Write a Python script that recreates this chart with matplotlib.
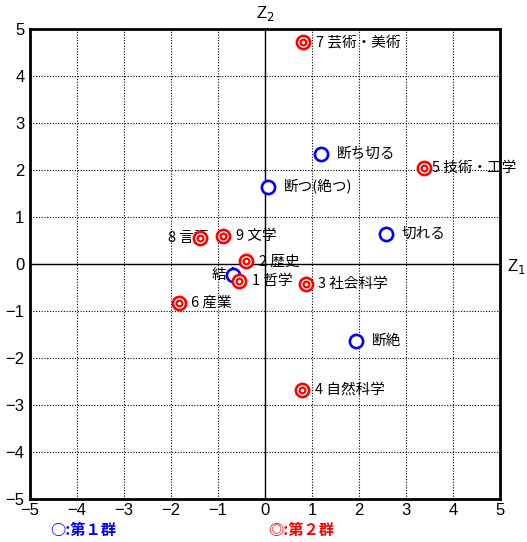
import matplotlib as mpl
import matplotlib.pyplot as plt

mpl.rcParams.update({
    'font.family': ['Noto Sans CJK JP', 'DejaVu Sans'],
    'axes.unicode_minus': True,
})

# group 1 (blue rings)
g1_names = ['断ち切る', '断つ(絶つ)', '切れる', '結合', '断絶']
g1_x = [1.19, 0.06, 2.57, -0.68, 1.94]
g1_y = [2.34, 1.64, 0.64, -0.23, -1.64]

# group 2 (red double rings)
g2_names = ['1 哲学', '2 歴史', '3 社会科学', '4 自然科学', '5 技術・工学',
            '6 産業', '7 芸術・美術', '8 言語', '9 文学']
g2_x = [-0.55, -0.40, 0.87, 0.79, 3.38, -1.83, 0.81, -1.38, -0.89]
g2_y = [-0.36, 0.06, -0.43, -2.68, 2.04, -0.83, 4.72, 0.55, 0.60]

ticks = [-5, -4, -3, -2, -1, 0, 1, 2, 3, 4, 5]
tick_labels = [f'{t}'.replace('-', '\u2212') for t in ticks]

fig = plt.figure(figsize=(5.27, 5.42), dpi=100)
ax = fig.add_axes([30 / 527, 1 - 499 / 542, 470 / 527, 470 / 542])
ax.set_xlim(-5, 5)
ax.set_ylim(-5, 5)
ax.set_xticks(ticks)
ax.set_yticks(ticks)
ax.set_xticklabels(tick_labels, family='Liberation Sans', fontsize=12)
ax.set_yticklabels(tick_labels, family='Liberation Sans', fontsize=12)
ax.tick_params(axis='x', length=0, pad=3)
ax.tick_params(axis='y', length=0, pad=4)
ax.grid(True, color='black', linestyle=(0, (1, 1.5)), linewidth=0.8)
for s in ax.spines.values():
    s.set_linewidth(2)
ax.axhline(0, color='black', linewidth=1, zorder=2)
ax.axvline(0, color='black', linewidth=1, zorder=2)

fs = 10.5
# labels first, markers on top
for n, x, y in zip(g1_names, g1_x, g1_y):
    if n == '結合':
        ax.annotate(n, (x, y), xytext=(6, 0), textcoords='offset points',
                    ha='right', va='center', fontsize=fs, zorder=3)
    else:
        ax.annotate(n, (x, y), xytext=(11.5, 0), textcoords='offset points',
                    ha='left', va='center', fontsize=fs, zorder=3)
for n, x, y in zip(g2_names, g2_x, g2_y):
    if n.startswith('8'):
        ax.annotate(n, (x, y), xytext=(6, 0), textcoords='offset points',
                    ha='right', va='center', fontsize=fs, zorder=3)
    else:
        off = 6 if n.startswith('5') else 9
        ax.annotate(n, (x, y), xytext=(off, 0), textcoords='offset points',
                    ha='left', va='center', fontsize=fs, zorder=3)

ax.plot(g1_x, g1_y, 'o', ms=9.5, mfc='white', mec='#0000ff', mew=1.9,
        linestyle='none', zorder=5)
ax.plot(g2_x, g2_y, 'o', ms=9.5, mfc='white', mec='#ff0000', mew=1.9,
        linestyle='none', zorder=6)
ax.plot(g2_x, g2_y, 'o', ms=4.2, mfc='white', mec='#ff0000', mew=1.6,
        linestyle='none', zorder=7)

# axis names
ax.text(0, 5.12, 'Z$_2$', ha='center', va='bottom', fontsize=12,
        family='Liberation Sans', clip_on=False)
ax.text(5.15, -0.05, 'Z$_1$', ha='left', va='center', fontsize=12,
        family='Liberation Sans', clip_on=False)

# group legend under the plot
fig.text(50 / 527, 1 - 530 / 542, '○:第１群', color='#0000ff', fontsize=11,
         fontweight='bold', va='center', ha='left')
fig.text(268 / 527, 1 - 530 / 542, '◎:第２群', color='#ff0000', fontsize=11,
         fontweight='bold', va='center', ha='left')

fig.savefig('out.png', dpi=100)
